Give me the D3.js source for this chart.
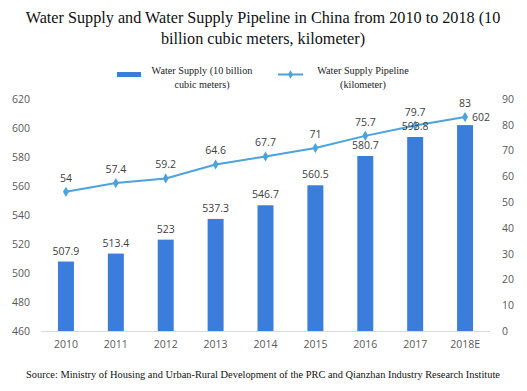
<!DOCTYPE html>
<html><head><meta charset="utf-8">
<script src="https://cdn.jsdelivr.net/npm/d3@7"></script>
<style>body{margin:0;background:#fff}svg{display:block}</style>
</head><body>
<script>
const categories = ["2010","2011","2012","2013","2014","2015","2016","2017","2018E"];
const waterSupply = [507.9,513.4,523,537.3,546.7,560.5,580.7,593.8,602];
const pipeline = [54,57.4,59.2,64.6,67.7,71,75.7,79.7,83];
const leftTicks = [460,480,500,520,540,560,580,600,620];
const rightTicks = [0,10,20,30,40,50,60,70,80,90];

const W=527,H=391;
const svg=d3.select("body").append("svg").attr("width",W).attr("height",H);
const barColor="#3a7ddb", lineColor="#4ba3dc", tickColor="#595959", labColor="#404040";
const sans='"Open Sans", sans-serif';
const serif='"Liberation Serif", serif';

const x=d3.scaleBand().domain(categories).range([41,490]).paddingInner(0.68).paddingOuter(0.34);
const yL=d3.scaleLinear().domain([460,620]).range([331,99]);
const yR=d3.scaleLinear().domain([0,90]).range([331,99]);

// title
svg.append("text").attr("x",263).attr("y",23).attr("text-anchor","middle")
  .style("font-family",serif).style("font-size","16.2px").attr("fill","#111")
  .text("Water Supply and Water Supply Pipeline in China from 2010 to 2018 (10");
svg.append("text").attr("x",263).attr("y",44).attr("text-anchor","middle")
  .style("font-family",serif).style("font-size","16.2px").attr("fill","#111")
  .text("billion cubic meters, kilometer)");

// legend
svg.append("rect").attr("x",117).attr("y",72).attr("width",24).attr("height",5).attr("fill",barColor);
const lg1=svg.append("text").style("font-family",serif).style("font-size","10.2px").attr("fill","#222").attr("text-anchor","middle");
lg1.append("tspan").attr("x",202).attr("y",74).text("Water Supply (10 billion");
lg1.append("tspan").attr("x",202).attr("y",88).text("cubic meters)");
svg.append("line").attr("x1",278).attr("x2",303).attr("y1",74.5).attr("y2",74.5).attr("stroke",lineColor).attr("stroke-width",2);
svg.append("path").attr("d",d3.symbol(d3.symbolDiamond,22)()).attr("transform","translate(290.5,74.5)").attr("fill",lineColor);
const lg2=svg.append("text").style("font-family",serif).style("font-size","10.2px").attr("fill","#222").attr("text-anchor","middle");
lg2.append("tspan").attr("x",363).attr("y",74).text("Water Supply Pipeline");
lg2.append("tspan").attr("x",363).attr("y",88).text("(kilometer)");

// axes
const axL=svg.append("g").attr("transform","translate(30,0)").call(d3.axisLeft(yL).tickValues(leftTicks).tickSize(0).tickPadding(0));
const axR=svg.append("g").attr("transform","translate(502,0)").call(d3.axisRight(yR).tickValues(rightTicks).tickSize(0).tickPadding(0));
const axB=svg.append("g").attr("transform","translate(0,331)").call(d3.axisBottom(x).tickSize(0).tickPadding(10));
[axL,axR,axB].forEach(a=>{a.select(".domain").remove();a.selectAll("text").style("font-family",sans).style("font-size","10.5px").attr("fill",tickColor);});
svg.append("line").attr("x1",41).attr("x2",490).attr("y1",331.5).attr("y2",331.5).attr("stroke","#d9d9d9");

// bars
svg.selectAll("rect.bar").data(waterSupply).enter().append("rect").attr("class","bar")
  .attr("x",(d,i)=>x(categories[i])).attr("width",x.bandwidth())
  .attr("y",d=>yL(d)).attr("height",d=>331-yL(d)).attr("fill",barColor);

// line
const cx=(i)=>x(categories[i])+x.bandwidth()/2;
svg.append("path").datum(pipeline).attr("fill","none").attr("stroke",lineColor).attr("stroke-width",2)
  .attr("d",d3.line().x((d,i)=>cx(i)).y(d=>yR(d)));
svg.selectAll("path.pt").data(pipeline).enter().append("path").attr("class","pt")
  .attr("d",d3.symbol(d3.symbolDiamond,30)()).attr("fill",lineColor)
  .attr("transform",(d,i)=>`translate(${cx(i)},${yR(d)})`);

// bar labels
svg.selectAll("text.bl").data(waterSupply).enter().append("text").attr("class","bl")
  .attr("x",(d,i)=>i===8?cx(i)+16:cx(i)).attr("y",(d,i)=>i===8?yR(pipeline[8])+4:yL(d)-7)
  .attr("text-anchor","middle").style("font-family",sans).style("font-size","10.5px").attr("fill",labColor)
  .text(d=>d);
// line labels
svg.selectAll("text.ll").data(pipeline).enter().append("text").attr("class","ll")
  .attr("x",(d,i)=>cx(i)).attr("y",d=>yR(d)-10)
  .attr("text-anchor","middle").style("font-family",sans).style("font-size","10.5px").attr("fill",labColor)
  .text(d=>d);

// source
svg.append("text").attr("x",263).attr("y",378).attr("text-anchor","middle")
  .style("font-family",serif).style("font-size","10.4px").attr("fill","#111")
  .text("Source: Ministry of Housing and Urban-Rural Development of the PRC and Qianzhan Industry Research Institute");
</script>
</body></html>
